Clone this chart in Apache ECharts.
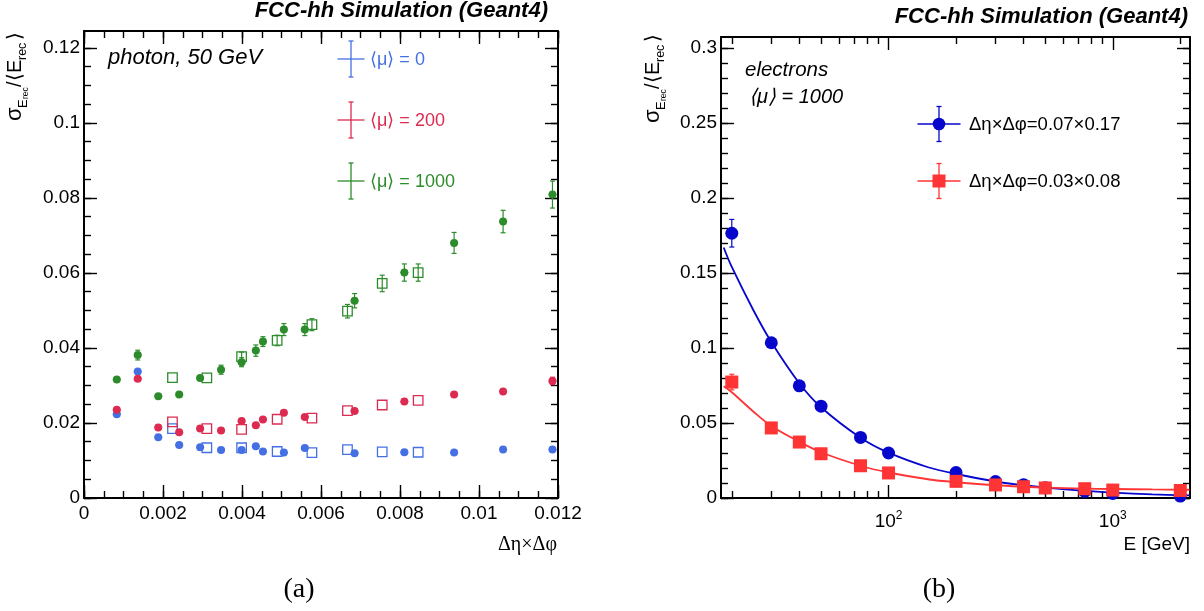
<!DOCTYPE html>
<html>
<head>
<meta charset="utf-8">
<title>FCC-hh energy resolution</title>
<script src="https://cdn.jsdelivr.net/npm/echarts@6/dist/echarts.min.js"></script>
<style>
  html, body { margin: 0; padding: 0; background: #fff; }
  #chart { width: 1204px; height: 611px; }
</style>
</head>
<body>
<div id="chart"></div>
<script>
// ---------- (a) photon, 50 GeV: resolution vs cell size ----------
const X_FILLED = [0.00083, 0.00136, 0.00188, 0.00241, 0.00294, 0.00347, 0.00399, 0.00435,
                  0.00453, 0.00506, 0.00559, 0.00685, 0.00811, 0.00937, 0.01061, 0.01186];
const X_OPEN = [0.00224, 0.00311, 0.00399, 0.00489, 0.00577, 0.00667, 0.00755, 0.00846];

const MU0_FILLED = [0.0223, 0.0337, 0.0162, 0.0141, 0.0135, 0.0128, 0.0128, 0.0138,
                    0.0124, 0.0121, 0.0133, 0.0119, 0.0122, 0.0121, 0.0129, 0.0129];
const MU0_FILLED_ERR = [0.0004, 0.0009, 0.0004, 0.0004, 0.0004, 0.0004, 0.0004, 0.0006,
                        0.0004, 0.0004, 0.0005, 0.0004, 0.0004, 0.0005, 0.0005, 0.0006];
const MU0_OPEN = [0.0185, 0.0134, 0.0134, 0.0124, 0.0121, 0.0129, 0.0123, 0.0122];
const MU0_OPEN_ERR = [0.0005, 0.0004, 0.0004, 0.0004, 0.0004, 0.0004, 0.0004, 0.0004];

const MU200_FILLED = [0.0235, 0.0318, 0.0188, 0.0175, 0.0185, 0.0180, 0.0205, 0.0194,
                      0.0209, 0.0227, 0.0216, 0.0232, 0.0257, 0.0276, 0.0284, 0.0312];
const MU200_FILLED_ERR = [0.0005, 0.0007, 0.0005, 0.0005, 0.0005, 0.0005, 0.0005, 0.0006,
                          0.0005, 0.0005, 0.0006, 0.0006, 0.0006, 0.0007, 0.0008, 0.0010];
const MU200_OPEN = [0.0203, 0.0185, 0.0183, 0.0210, 0.0213, 0.0233, 0.0248, 0.0260];
const MU200_OPEN_ERR = [0.0005, 0.0005, 0.0005, 0.0005, 0.0005, 0.0005, 0.0005, 0.0005];

const MU1000_FILLED = [0.0316, 0.0381, 0.0271, 0.0276, 0.0320, 0.0342, 0.0362, 0.0393,
                       0.0417, 0.0449, 0.0449, 0.0526, 0.0601, 0.0680, 0.0737, 0.0809];
const MU1000_FILLED_ERR = [0.0009, 0.0013, 0.0008, 0.0008, 0.0009, 0.0012, 0.0012, 0.0015,
                           0.0013, 0.0016, 0.0016, 0.0019, 0.0023, 0.0028, 0.0030, 0.0036];
const MU1000_OPEN = [0.0321, 0.0320, 0.0377, 0.0420, 0.0462, 0.0498, 0.0572, 0.0601];
const MU1000_OPEN_ERR = [0.0008, 0.0008, 0.0012, 0.0014, 0.0016, 0.0018, 0.0022, 0.0023];

const CELL_SIZE_ERR = 0.0001;   // horizontal uncertainty on the filled points

const LEFT_X_TICKS = [0, 0.002, 0.004, 0.006, 0.008, 0.01, 0.012];
const LEFT_Y_TICKS = [0, 0.02, 0.04, 0.06, 0.08, 0.1, 0.12];

// ---------- (b) electrons, <mu> = 1000: resolution vs energy ----------
const E_GEV = [20, 30, 40, 50, 75, 100, 200, 300, 400, 500, 750, 1000, 2000];
const RES_COARSE = [0.1765, 0.1035, 0.0748, 0.0612, 0.0404, 0.0300, 0.0170, 0.0110, 0.0089, 0.0068, 0.0044, 0.0030, 0.0013];
const RES_COARSE_ERR = [0.0092, 0.0025, 0.0018, 0.0015, 0.0012, 0.0010, 0.0008, 0.0006, 0.0005, 0.0005, 0.0004, 0.0004, 0.0003];
const RES_FINE = [0.0773, 0.0467, 0.0373, 0.0295, 0.0215, 0.0167, 0.0111, 0.0087, 0.0075, 0.0067, 0.0062, 0.0053, 0.0050];
const RES_FINE_ERR = [0.0052, 0.0020, 0.0015, 0.0012, 0.0010, 0.0008, 0.0006, 0.0005, 0.0004, 0.0004, 0.0004, 0.0003, 0.0003];

// fitted resolution curves, sampled along the energy axis
const FIT_E = [18.4, 20, 25, 30, 40, 50, 75, 100, 150, 200, 300, 400, 500, 750, 1000, 1500, 2200];
const FIT_COARSE = [0.167, 0.154, 0.125, 0.104, 0.0765, 0.0605, 0.0402, 0.0302, 0.0205, 0.0160,
                    0.0110, 0.0085, 0.0069, 0.0047, 0.0036, 0.0024, 0.0017];
const FIT_FINE = [0.0745, 0.0705, 0.0575, 0.0480, 0.0375, 0.0305, 0.0215, 0.0170, 0.0125, 0.0105,
                  0.0085, 0.0075, 0.0069, 0.0063, 0.0060, 0.0057, 0.0055];

const RIGHT_X_MAJOR = [100, 1000];
const RIGHT_X_MINOR = [20, 30, 40, 50, 60, 70, 80, 90, 200, 300, 400, 500, 600, 700, 800, 900, 2000];
const RIGHT_Y_TICKS = [0, 0.05, 0.1, 0.15, 0.2, 0.25, 0.3];

// ---------- styling ----------
const FONT = '"Liberation Sans", Arial, Helvetica, sans-serif';
const SERIF = '"Liberation Serif", "DejaVu Serif", serif';
const C_MU0 = '#4470e4';
const C_MU200 = '#dc2a50';
const C_MU1000 = '#2c8c2c';
const C_COARSE = '#0606cc';
const C_FINE = '#ff3434';

function steps(from, to, step) {
  const out = [];
  const n = Math.round((to - from) / step);
  for (let i = 0; i <= n; i++) out.push(+(from + i * step).toFixed(6));
  return out;
}
const LEFT_X_MINOR = steps(0, 0.012, 0.0005);
const LEFT_Y_MINOR = steps(0, 0.12, 0.005);
const RIGHT_Y_MINOR = steps(0, 0.3, 0.01);

const fmtNum = v => String(+(+v).toFixed(4));

function tickAxis(opt) {
  // one axis = one set of inward ticks on one side of a frame
  const a = {
    type: opt.type || 'value',
    gridIndex: opt.grid,
    position: opt.position,
    min: opt.min, max: opt.max,
    splitLine: { show: false },
    axisLine: { show: !!opt.line, onZero: false, lineStyle: { color: '#000', width: 2 } },
    axisTick: { show: true, inside: true, length: opt.len, customValues: opt.ticks,
                lineStyle: { color: '#000', width: 1.4 } },
    axisLabel: { show: false },
    axisPointer: { show: false }
  };
  if (opt.type === 'log') a.logBase = 10;
  if (opt.labels) {
    a.axisLabel = Object.assign({
      show: true, customValues: opt.ticks, color: '#000',
      fontFamily: FONT, fontSize: 19, formatter: fmtNum
    }, opt.labels);
  }
  return a;
}

const L_XMIN = 0, L_XMAX = 0.012, L_YMIN = 0, L_YMAX = 0.1245;
const R_XMIN = 17.9, R_XMAX = 2210, R_YMIN = 0, R_YMAX = 0.3073;

const xAxes = [
  tickAxis({ grid: 0, position: 'bottom', min: L_XMIN, max: L_XMAX, len: 13, ticks: LEFT_X_TICKS, line: true,
             labels: { margin: 6 } }),
  tickAxis({ grid: 0, position: 'bottom', min: L_XMIN, max: L_XMAX, len: 7, ticks: LEFT_X_MINOR }),
  tickAxis({ grid: 0, position: 'top', min: L_XMIN, max: L_XMAX, len: 13, ticks: LEFT_X_TICKS, line: true }),
  tickAxis({ grid: 0, position: 'top', min: L_XMIN, max: L_XMAX, len: 7, ticks: LEFT_X_MINOR }),
  tickAxis({ type: 'log', grid: 1, position: 'bottom', min: R_XMIN, max: R_XMAX, len: 13, ticks: RIGHT_X_MAJOR, line: true,
             labels: { margin: 12, formatter: v => '10{sup|' + Math.round(Math.log10(v)) + '}',
                       rich: { sup: { fontSize: 12, fontFamily: FONT, color: '#000', padding: [0, 0, 12, 0] } } } }),
  tickAxis({ type: 'log', grid: 1, position: 'bottom', min: R_XMIN, max: R_XMAX, len: 7, ticks: RIGHT_X_MINOR }),
  tickAxis({ type: 'log', grid: 1, position: 'top', min: R_XMIN, max: R_XMAX, len: 13, ticks: RIGHT_X_MAJOR, line: true }),
  tickAxis({ type: 'log', grid: 1, position: 'top', min: R_XMIN, max: R_XMAX, len: 7, ticks: RIGHT_X_MINOR })
];

const yAxes = [
  tickAxis({ grid: 0, position: 'left', min: L_YMIN, max: L_YMAX, len: 13, ticks: LEFT_Y_TICKS, line: true,
             labels: { margin: 4 } }),
  tickAxis({ grid: 0, position: 'left', min: L_YMIN, max: L_YMAX, len: 7, ticks: LEFT_Y_MINOR }),
  tickAxis({ grid: 0, position: 'right', min: L_YMIN, max: L_YMAX, len: 13, ticks: LEFT_Y_TICKS, line: true }),
  tickAxis({ grid: 0, position: 'right', min: L_YMIN, max: L_YMAX, len: 7, ticks: LEFT_Y_MINOR }),
  tickAxis({ grid: 1, position: 'left', min: R_YMIN, max: R_YMAX, len: 13, ticks: RIGHT_Y_TICKS, line: true,
             labels: { margin: 4 } }),
  tickAxis({ grid: 1, position: 'left', min: R_YMIN, max: R_YMAX, len: 7, ticks: RIGHT_Y_MINOR }),
  tickAxis({ grid: 1, position: 'right', min: R_YMIN, max: R_YMAX, len: 13, ticks: RIGHT_Y_TICKS, line: true }),
  tickAxis({ grid: 1, position: 'right', min: R_YMIN, max: R_YMAX, len: 7, ticks: RIGHT_Y_MINOR })
];

// vertical (and optional horizontal) error bars; bars hidden by the marker are skipped
function errorSeries(xs, ys, errs, color, axisIdx, xErr, hide) {
  return {
    type: 'custom',
    xAxisIndex: axisIdx, yAxisIndex: axisIdx,
    z: 2, silent: true, clip: false,
    data: xs.map((x, i) => [x, ys[i], errs[i]]),
    encode: { x: 0, y: 1 },
    renderItem: (params, api) => {
      const x = api.value(0), y = api.value(1), e = api.value(2);
      const c = api.coord([x, y]);
      const top = api.coord([x, y + e]);
      const bot = api.coord([x, y - e]);
      const st = { stroke: color, lineWidth: 1.2 };
      const kids = [];
      if (c[1] - top[1] > hide) {
        kids.push({ type: 'line', shape: { x1: c[0], y1: top[1], x2: c[0], y2: bot[1] }, style: st });
        kids.push({ type: 'line', shape: { x1: c[0] - 2.5, y1: top[1], x2: c[0] + 2.5, y2: top[1] }, style: st });
        kids.push({ type: 'line', shape: { x1: c[0] - 2.5, y1: bot[1], x2: c[0] + 2.5, y2: bot[1] }, style: st });
      }
      if (xErr) {
        const l = api.coord([x - xErr, y]), r = api.coord([x + xErr, y]);
        kids.push({ type: 'line', shape: { x1: l[0], y1: c[1], x2: r[0], y2: c[1] }, style: st });
      }
      return { type: 'group', children: kids };
    }
  };
}

function pointSeries(xs, ys, color, axisIdx, kind, size) {
  const filled = kind !== 'open';
  return {
    type: 'scatter',
    xAxisIndex: axisIdx, yAxisIndex: axisIdx,
    z: 4, silent: true,
    symbol: kind === 'open' ? 'rect' : kind,
    symbolSize: size,
    data: xs.map((x, i) => [x, ys[i]]),
    itemStyle: filled
      ? { color: color, opacity: 1 }
      : { color: 'rgba(0,0,0,0)', borderColor: color, borderWidth: 1.3, opacity: 1 }
  };
}

const series = [];
[
  [MU0_FILLED, MU0_FILLED_ERR, MU0_OPEN, MU0_OPEN_ERR, C_MU0],
  [MU200_FILLED, MU200_FILLED_ERR, MU200_OPEN, MU200_OPEN_ERR, C_MU200],
  [MU1000_FILLED, MU1000_FILLED_ERR, MU1000_OPEN, MU1000_OPEN_ERR, C_MU1000]
].forEach(([yf, ef, yo, eo, c]) => {
  series.push(errorSeries(X_FILLED, yf, ef, c, 0, CELL_SIZE_ERR, 3.5));
  series.push(errorSeries(X_OPEN, yo, eo, c, 0, 0, 4.5));
  series.push(pointSeries(X_FILLED, yf, c, 0, 'circle', 8));
  series.push(pointSeries(X_OPEN, yo, c, 0, 'open', 9.5));
});

[
  [RES_COARSE, RES_COARSE_ERR, FIT_COARSE, C_COARSE, 'circle', 13],
  [RES_FINE, RES_FINE_ERR, FIT_FINE, C_FINE, 'rect', 13]
].forEach(([y, e, fit, c, sym, size]) => {
  series.push({
    type: 'line', xAxisIndex: 4, yAxisIndex: 4, z: 3, silent: true,
    smooth: 0.35, showSymbol: false,
    data: FIT_E.map((x, i) => [x, fit[i]]),
    lineStyle: { color: c, width: 1.8 }
  });
  series.push(errorSeries(E_GEV, y, e, c, 4, 0, 6.5));
  series.push(pointSeries(E_GEV, y, c, 4, sym, size));
});

// ---------- annotations, legends and axis titles ----------
function yTitle(x, y) {
  const parts = [
    ['σ', 0, 0, 22], ['E', 13, 8, 13], ['rec', 22, 11, 8.5],
    ['/', 34, 0, 20], ['⟨', 40, 0, 20], ['E', 48, 0, 20], ['rec', 61, 8, 12.5], ['⟩', 81, 0, 20]
  ];
  return {
    type: 'group', x: x, y: y, rotation: Math.PI / 2, silent: true,
    children: parts.map(([t, dx, dy, fs]) => ({
      type: 'text', x: dx, y: dy,
      style: { text: t, fontSize: fs, fontFamily: FONT, fill: '#000',
               align: 'left', verticalAlign: 'middle', textAlign: 'left', textVerticalAlign: 'middle' }
    }))
  };
}

function text(x, y, str, size, opts) {
  return {
    type: 'text', x: x, y: y, silent: true,
    style: Object.assign({
      text: str, fontSize: size, fontFamily: FONT, fill: '#000',
      align: 'left', verticalAlign: 'middle', textAlign: 'left', textVerticalAlign: 'middle'
    }, opts || {})
  };
}

function line(x1, y1, x2, y2, color, w) {
  return { type: 'line', silent: true, shape: { x1, y1, x2, y2 }, style: { stroke: color, lineWidth: w || 1.3 } };
}

function errCross(cx, cy, halfW, halfH, color) {
  return [
    line(cx - halfW, cy, cx + halfW, cy, color),
    line(cx, cy - halfH, cx, cy + halfH, color),
    line(cx - 2.5, cy - halfH, cx + 2.5, cy - halfH, color),
    line(cx - 2.5, cy + halfH, cx + 2.5, cy + halfH, color)
  ];
}

const graphics = [
  text(548, 11, 'FCC-hh Simulation (Geant4)', 22, { fontWeight: 'bold', fontStyle: 'italic', align: 'right', textAlign: 'right' }),
  text(1188, 17, 'FCC-hh Simulation (Geant4)', 22, { fontWeight: 'bold', fontStyle: 'italic', align: 'right', textAlign: 'right' }),
  text(108, 58, 'photon, 50 GeV', 22, { fontStyle: 'italic' }),
  text(745, 70, 'electrons', 20.5, { fontStyle: 'italic' }),
  text(749, 97, '⟨μ⟩ = 1000', 20, { fontStyle: 'italic' }),
  yTitle(15, 121),
  yTitle(653, 123),
  text(557, 545, 'Δη×Δφ', 20, { fontFamily: SERIF, align: 'right', textAlign: 'right' }),
  text(1190, 545, 'E [GeV]', 19, { align: 'right', textAlign: 'right' }),
  text(299, 590, '(a)', 28, { fontFamily: SERIF, align: 'center', textAlign: 'center' }),
  text(939, 590, '(b)', 28, { fontFamily: SERIF, align: 'center', textAlign: 'center' })
];

// legend of panel (a)
[['⟨μ⟩ = 0', C_MU0, 59], ['⟨μ⟩ = 200', C_MU200, 120], ['⟨μ⟩ = 1000', C_MU1000, 181]].forEach(([t, c, y]) => {
  graphics.push(...errCross(351, y, 13.5, 18, c));
  graphics.push(text(370, y + 1, t, 18, { fill: c }));
});

// legend of panel (b)
[['Δη×Δφ=0.07×0.17', C_COARSE, 124, 'circle'], ['Δη×Δφ=0.03×0.08', C_FINE, 181, 'rect']].forEach(([t, c, y, sym]) => {
  graphics.push(...errCross(939, y, 21.5, 17.5, c));
  graphics.push(sym === 'circle'
    ? { type: 'circle', silent: true, shape: { cx: 939, cy: y, r: 6.3 }, style: { fill: c } }
    : { type: 'rect', silent: true, shape: { x: 932.5, y: y - 6.5, width: 13, height: 13 }, style: { fill: c } });
  graphics.push(text(969, y + 1, t, 18.5));
});

const chart = echarts.init(document.getElementById('chart'), null, { renderer: 'canvas' });
chart.setOption({
  animation: false,
  backgroundColor: '#fff',
  grid: [
    { left: 84, top: 31, width: 474, height: 467, containLabel: false },
    { left: 721, top: 37, width: 469, height: 461, containLabel: false }
  ],
  xAxis: xAxes,
  yAxis: yAxes,
  series: series,
  graphic: { elements: graphics }
});
</script>
</body>
</html>
